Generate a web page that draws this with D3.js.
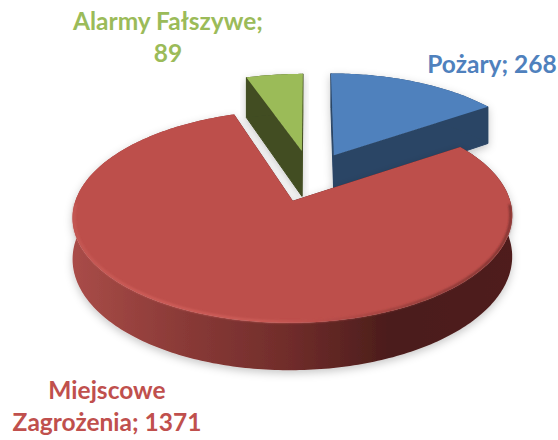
<!DOCTYPE html>
<html><head><meta charset="utf-8">
<script src="https://cdn.jsdelivr.net/npm/d3@7"></script>
<style>html,body{margin:0;padding:0;background:#fff}svg{display:block}text{font-family:Lato,"Open Sans",sans-serif;font-weight:700}</style>
</head><body><svg id="c" width="558" height="440"></svg>
<script>
const categories=["Pożary","Miejscowe Zagrożenia","Alarmy Fałszywe"];
const values=[268,1371,89];
const topColors=["#4f81bd","#bd4f4c","#9bbb59"];
const sideColors=["#2a4565","url(#redSide)","#424d21"];
const drawOrder=[2,0,1];
const labelLines=[["Pożary; 268"],["Miejscowe","Zagrożenia; 1371"],["Alarmy Fałszywe;","89"]];
const labelX=[492,107,168];
const labelY=[73,399,30];
const labelStep=32;
const labelColors=["#4f81bd","#c0504d","#9bbb59"];

const svg=d3.select("#c");
const defs=svg.append("defs");
const grad=(id,stops)=>{const g=defs.append("linearGradient").attr("id",id).attr("gradientUnits","userSpaceOnUse").attr("x1",72).attr("x2",514).attr("y1",0).attr("y2",0);
 stops.forEach(s=>g.append("stop").attr("offset",s[0]).attr("stop-color",s[1]));};
grad("redSide",[[0,"#a94c48"],[.25,"#8a3a37"],[.5,"#6f2c2a"],[.72,"#4b1d1b"],[1,"#4f1f1d"]]);
grad("redBevel",[[0,"#c65a56"],[.18,"#d4625d"],[.42,"#d0605b"],[.55,"#bd4f4c"],[.78,"#8a3835"],[1,"#6a2a28"]]);
const f=defs.append("filter").attr("id","sh").attr("x","-10%").attr("y","-10%").attr("width","120%").attr("height","125%");
f.append("feDropShadow").attr("dx",0).attr("dy",3).attr("stdDeviation",4).attr("flood-color","#000").attr("flood-opacity",.22);
defs.append("filter").attr("id","bl").append("feGaussianBlur").attr("stdDeviation",.8);

// perspective projection of the tilted disc
const cx0=310.5,cy0=176,a=214,b=101.3,p=.149;
const explode=[.24,.25,.26],radX=[.98,.98,.97],radY=[.98,.955,.93],depth=[41,39,47];
const project=(u,v,dp)=>{const w=1+p*v;return [cx0+a*u/w,cy0-b*v/w,dp/w];};
const pie=d3.pie().sort(null).startAngle(0).endAngle(2*Math.PI);
const arcs=pie(values);
const line=d3.line();
drawOrder.forEach(i=>{
 const d=arcs[i],mid=(d.startAngle+d.endAngle)/2;
 const ex=explode[i]*Math.sin(mid),ey=explode[i]*Math.cos(mid);
 const rimAt=(t,k)=>project(ex+k*radX[i]*Math.sin(t),ey+k*radY[i]*Math.cos(t),depth[i]);
 const rim=t=>rimAt(t,1);
 const ap=project(ex,ey,depth[i]);
 const n=Math.ceil((d.endAngle-d.startAngle)*60);
 const ts=d3.range(n+1).map(k=>d.startAngle+(d.endAngle-d.startAngle)*k/n);
 const pts=ts.map(rim);
 const top=[ap,...pts].map(q=>[q[0],q[1]]);
 const down=q=>[q[0],q[1]+q[2]];
 const g=svg.append("g").attr("filter","url(#sh)");
 const s0=pts[0],s1=pts[n];
 [[ap,s0],[ap,s1]].forEach(pr=>{
  g.append("path").attr("d",line([[pr[0][0],pr[0][1]],[pr[1][0],pr[1][1]],down(pr[1]),down(pr[0])])+"Z").attr("fill",i===1?"#4b1d1b":sideColors[i]).attr("stroke",i===1?"none":sideColors[i]).attr("stroke-width",1).attr("stroke-linejoin","round");
 });
 g.append("path").attr("d",line([...pts.map(q=>[q[0],q[1]]),...pts.slice().reverse().map(down)])+"Z").attr("fill",sideColors[i]);
 g.append("path").attr("d",line(top)+"Z").attr("fill",topColors[i]);
 if(i===1){
  const front=ts.filter(t=>Math.cos(t)<-0.02).map(t=>rimAt(t,.993)).map(q=>[q[0],q[1]]);
  svg.append("path").attr("d",line(front)).attr("fill","none").attr("stroke","url(#redBevel)").attr("stroke-width",2).attr("filter","url(#bl)");
 }
});
labelLines.forEach((ls,i)=>ls.forEach((t,j)=>{
 svg.append("text").attr("x",labelX[i]).attr("y",labelY[i]+j*labelStep).attr("text-anchor","middle").attr("font-size",24.5).attr("fill",labelColors[i]).text(t);
}));
</script></body></html>
